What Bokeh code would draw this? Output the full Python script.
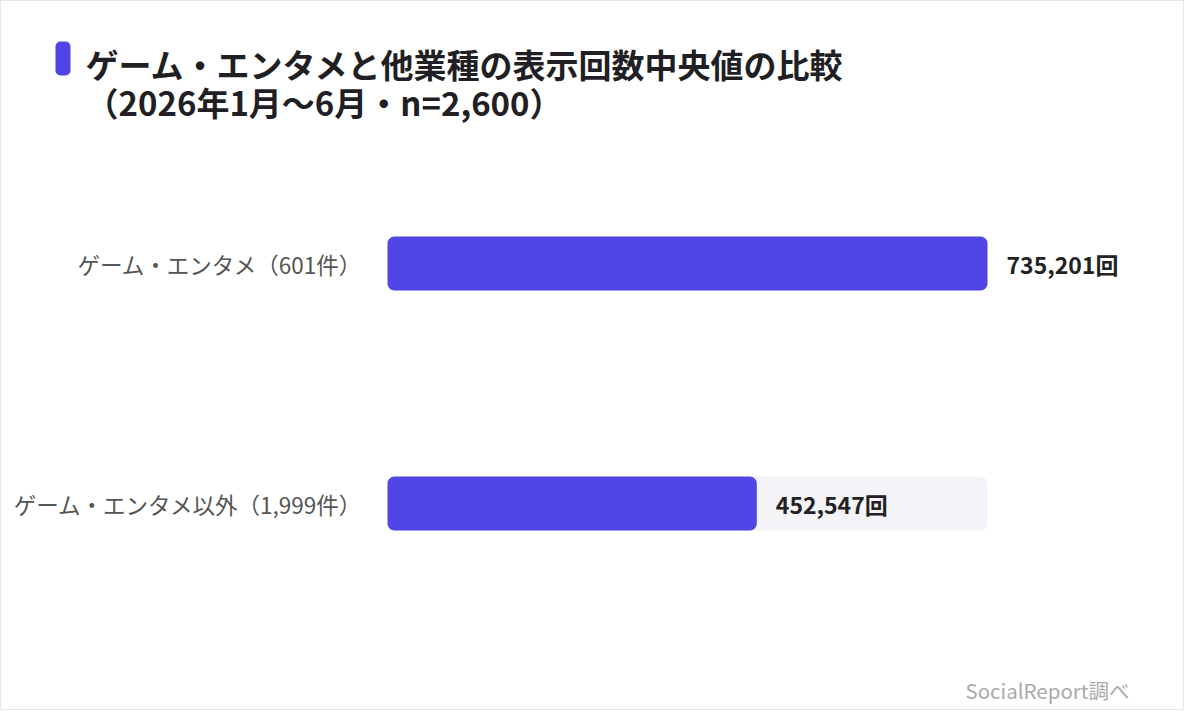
from bokeh.plotting import figure
from bokeh.models import Range1d, Label
from bokeh.core.properties import value
from bokeh.embed import file_html
from bokeh.resources import INLINE

# ---- data ----
categories = ["ゲーム・エンタメ（601件）", "ゲーム・エンタメ以外（1,999件）"]
values = [735201, 452547]
value_labels = ["735,201回", "452,547回"]
title_line1 = "ゲーム・エンタメと他業種の表示回数中央値の比較"
title_line2 = "（2026年1月～6月・n=2,600）"
source_note = "SocialReport調べ"

FONT = "Noto Sans CJK JP"
W, H = 1184, 710
BAR_X0, BAR_W = 387, 600        # pixel start / width of bar track
TOP_CY, STEP = 263, 240         # pixel centre of first bar, spacing
M = max(values)

def X(px):
    return (px - BAR_X0) / BAR_W * M

YEND = (len(categories) - 1) + TOP_CY / STEP
def Y(py):
    return YEND - py / STEP

ypos = [len(categories) - 1 - i for i in range(len(categories))]

p = figure(width=W, height=H, output_backend="svg", toolbar_location=None,
           x_range=Range1d(X(0), X(W)), y_range=Range1d(Y(H), Y(0)),
           min_border=0, x_axis_location=None, y_axis_location=None)
p.grid.visible = False
p.background_fill_color = "#ffffff"
p.border_fill_color = "#ffffff"
p.outline_line_color = "#e6e6ec"

bh = 54 / STEP
p.hbar(y=ypos, left=0, right=[M] * len(values), height=bh,
       fill_color="#f4f3f8", line_color=None, border_radius=7)
p.hbar(y=ypos, left=0, right=values, height=bh,
       fill_color="#4f46e5", line_color=None, border_radius=7)

p.text(x=[0] * len(categories), y=ypos, text=categories, x_offset=-25,
       text_align="right", text_baseline="middle", text_font=value(FONT),
       text_font_size="22.5px", text_color="#555555")
p.text(x=values, y=ypos, text=value_labels, x_offset=19,
       text_align="left", text_baseline="middle", text_font=value(FONT),
       text_font_size="23px", text_font_style="bold", text_color="#222222")

# accent mark
p.quad(left=[X(55)], right=[X(70)], top=[Y(41)], bottom=[Y(75)],
       fill_color="#4f46e5", line_color=None, border_radius=5)

for txt, py in [(title_line1, 63), (title_line2, 101)]:
    p.add_layout(Label(x=X(85), y=Y(py), text=txt, text_align="left",
                       text_baseline="middle", text_font=FONT,
                       text_font_size="33px", text_font_style="bold",
                       text_color="#1f1f24"))

p.add_layout(Label(x=X(1129), y=Y(689), text=source_note, text_align="right",
                   text_baseline="middle", text_font=FONT,
                   text_font_size="20.5px", text_color="#aaaaaa"))

open("out.html", "w").write(file_html(p, INLINE))
